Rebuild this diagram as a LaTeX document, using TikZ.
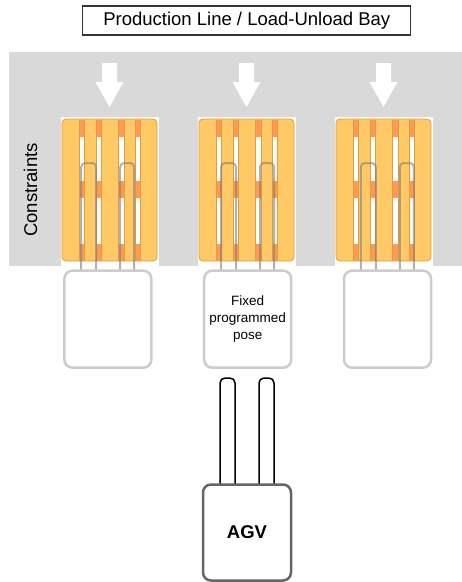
\documentclass[tikz,border=0pt]{standalone}
\usepackage{fontspec}
\setmainfont{Liberation Sans}

\definecolor{bay}{HTML}{D9D9D9}
\definecolor{boardfill}{HTML}{FFC966}
\definecolor{boardline}{HTML}{E39B3B}
\definecolor{stringer}{HTML}{FF9A56}
\definecolor{posegray}{HTML}{CCCCCC}
\definecolor{agvgray}{HTML}{666666}

\begin{document}
\begin{tikzpicture}
[x=1pt,y=-1pt,
 line/.style={draw=black!80,line width=1.2pt,minimum width=328pt,minimum height=29pt,inner sep=0pt,font=\fontsize{18.5}{22}\selectfont},
 side/.style={rotate=90,inner sep=0pt,font=\fontsize{18.5}{22}\selectfont},
 drop/.style={fill=white},
 board/.style={fill=boardfill,draw=boardline,line width=.8pt,rounded corners=4pt},
 slat/.style={draw=boardline,line width=.5pt},
 fork/.style={draw=gray,line width=2pt,opacity=.6,rounded corners=4pt},
 pose/.style={draw=posegray,fill=white,line width=2.5pt,rounded corners=8pt,minimum width=87pt,minimum height=97pt,inner sep=0pt,align=center,font=\fontsize{13.5}{17}\selectfont},
 tine/.style={draw=black,line width=1.5pt,rounded corners=5pt},
 agv/.style={draw=agvgray,fill=white,line width=2.5pt,rounded corners=8pt,minimum width=88pt,minimum height=96pt,inner sep=0pt,font=\bfseries\fontsize{18.5}{20}\selectfont}]
\useasboundingbox (0,0) rectangle (462,582);

\node [line] at (246.8,20.5) (bayline) {Production Line / Load-Unload Bay};

% constrained area of the bay
\fill [bay] (9,52) rectangle (462,266);
\node [side] at (30.5,190) (constraints) {Constraints};

% pallets, drop arrows and the forks reaching into them
\foreach \p/\f in {109.5/107.9, 246.5/247.7, 383.5/387.5} {
  \fill [drop] (\p-7.5,63) -- (\p+7.5,63) -- (\p+7.5,82) -- (\p+14,82)
    -- (\p,107) -- (\p-14,82) -- (\p-7.5,82) -- cycle;
  \fill [white] (\p-49,117) rectangle (\p+49,266);
  \filldraw [board] (\p-47.5,119) rectangle (\p+47.5,261);
  \foreach \g in {-27.7,-10.7,11.5,28.3} {
    \fill [stringer] (\p+\g-2.85,119.5) rectangle (\p+\g+2.85,260.5);
    \fill [white] (\p+\g-2.85,137) rectangle (\p+\g+2.85,181);
    \fill [white] (\p+\g-2.85,198) rectangle (\p+\g+2.85,244);
    \draw [slat] (\p+\g-2.85,119.5) -- (\p+\g-2.85,260.5)
      (\p+\g+2.85,119.5) -- (\p+\g+2.85,260.5);
  }
  \draw [fork] (\f-26.7,271) -- (\f-26.7,163) -- (\f-11.7,163) -- (\f-11.7,271);
  \draw [fork] (\f+12.3,271) -- (\f+12.3,163) -- (\f+26.3,163) -- (\f+26.3,271);
}

\node [pose] at (107.9,319.2) (pose1) {};
\node [pose] at (247.7,319.2) (pose2) {Fixed\\programmed\\pose};
\node [pose] at (387.5,319.2) (pose3) {};

% the vehicle with its two tines
\draw [tine] (220,484) -- (220,378) -- (235,378) -- (235,484);
\draw [tine] (259,484) -- (259,378) -- (274,378) -- (274,484);
\node [agv] at (247,532.5) (agv) {AGV};
\end{tikzpicture}
\end{document}
